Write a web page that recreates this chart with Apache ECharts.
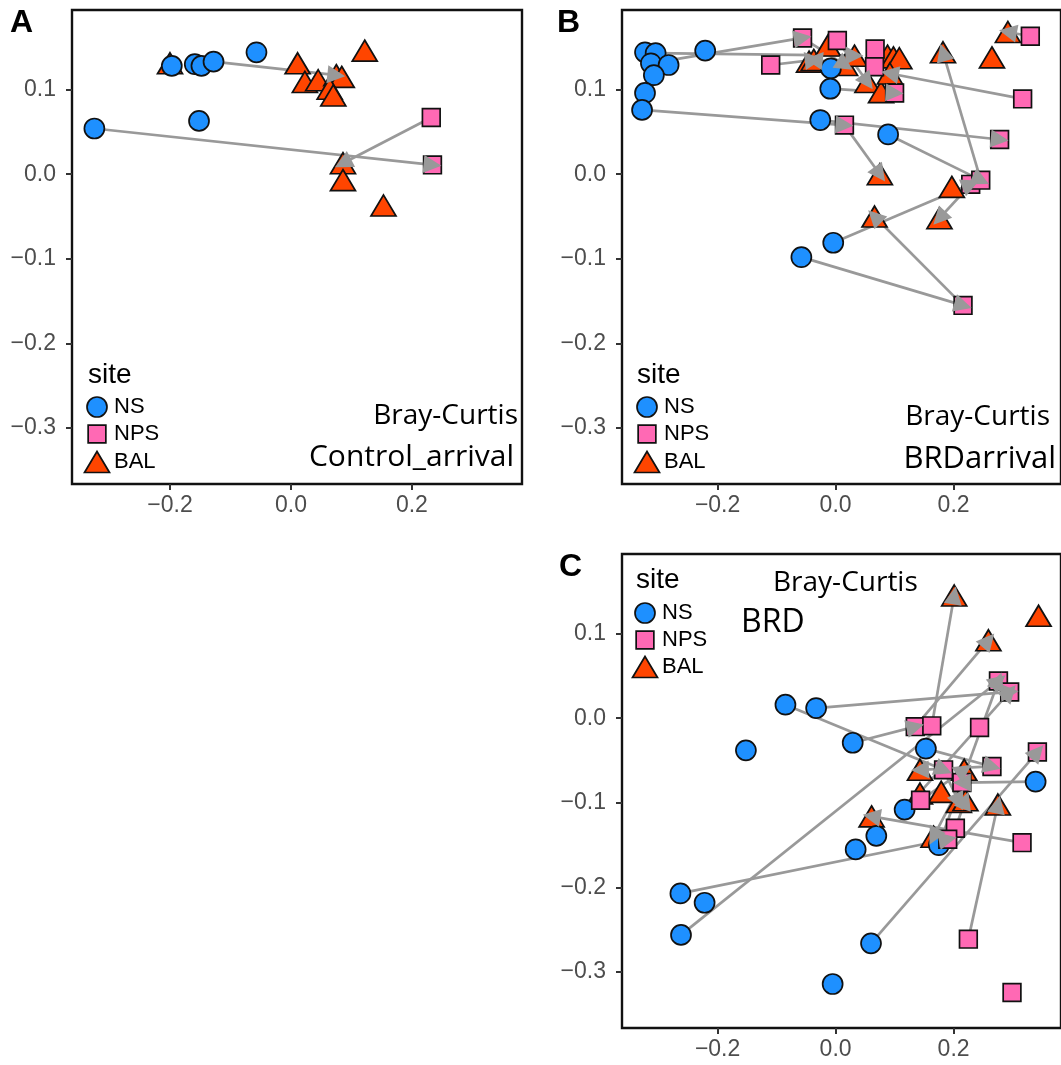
<!DOCTYPE html>
<html>
<head>
<meta charset="utf-8">
<script src="https://cdn.jsdelivr.net/npm/echarts@6/dist/echarts.min.js"></script>
<style>
  html, body { margin: 0; padding: 0; background: #ffffff; }
  #chart { width: 1061px; height: 1065px; }
</style>
</head>
<body>
<div id="chart"></div>
<script>
// Bray-Curtis ordination scores (axis 1, axis 2) by site, for three designs.
const xTicks = [-0.2, 0.0, 0.2];
const yTicks = [-0.3, -0.2, -0.1, 0.0, 0.1];
const siteNames = ['NS', 'NPS', 'BAL'];

// Control_arrival
const controlNS = [[-0.197, 0.128], [-0.159, 0.130], [-0.148, 0.128], [-0.128, 0.133], [-0.057, 0.144], [-0.152, 0.063], [-0.325, 0.054]];
const controlNPS = [[0.232, 0.067], [0.234, 0.011]];
const controlBAL = [[-0.200, 0.131], [0.011, 0.131], [0.122, 0.146], [0.023, 0.109], [0.045, 0.111], [0.075, 0.117], [0.084, 0.115], [0.064, 0.101], [0.070, 0.093], [0.086, 0.013], [0.086, -0.007], [0.153, -0.037]];
// movements between sites: [x from, y from, x to, y to]
const controlMoves = [[-0.128, 0.133, 0.075, 0.117], [-0.325, 0.054, 0.234, 0.011], [0.232, 0.067, 0.086, 0.013]];

// BRDarrival
const arrivalNS = [[-0.323, 0.144], [-0.305, 0.143], [-0.313, 0.131], [-0.283, 0.129], [-0.308, 0.117], [-0.323, 0.096], [-0.328, 0.076], [-0.221, 0.146], [-0.008, 0.125], [-0.009, 0.101], [-0.026, 0.064], [0.089, 0.047], [-0.004, -0.081], [-0.058, -0.098]];
const arrivalNPS = [[-0.056, 0.161], [0.003, 0.158], [-0.110, 0.129], [0.067, 0.148], [0.066, 0.127], [0.100, 0.096], [0.330, 0.163], [0.317, 0.089], [0.015, 0.058], [0.278, 0.041], [0.229, -0.012], [0.246, -0.007], [0.216, -0.155]];
const arrivalBAL = [[-0.045, 0.133], [-0.037, 0.135], [-0.013, 0.152], [0.016, 0.129], [0.032, 0.140], [0.054, 0.109], [0.077, 0.097], [0.088, 0.140], [0.098, 0.138], [0.108, 0.137], [0.092, 0.119], [0.182, 0.144], [0.265, 0.138], [0.292, 0.168], [0.075, 0.000], [0.197, -0.015], [0.066, -0.050], [0.176, -0.052]];
const arrivalMoves = [
  [-0.313, 0.131, -0.056, 0.161], [-0.305, 0.143, 0.032, 0.140], [-0.328, 0.076, 0.015, 0.058],
  [0.015, 0.058, 0.075, 0.000], [-0.026, 0.064, 0.278, 0.041], [0.089, 0.047, 0.246, -0.007],
  [0.246, -0.007, 0.182, 0.144], [0.317, 0.089, 0.092, 0.119], [0.330, 0.163, 0.292, 0.168],
  [0.216, -0.155, 0.066, -0.050], [-0.058, -0.098, 0.216, -0.155], [-0.004, -0.081, 0.229, -0.012],
  [0.229, -0.012, 0.176, -0.052], [-0.110, 0.129, -0.037, 0.135], [-0.009, 0.101, 0.100, 0.096],
  [0.066, 0.127, -0.037, 0.135], [-0.056, 0.161, 0.016, 0.129], [0.003, 0.158, 0.054, 0.109]
];

// BRD
const brdNS = [[-0.085, 0.016], [-0.033, 0.012], [-0.152, -0.038], [0.029, -0.029], [0.153, -0.036], [0.339, -0.075], [0.117, -0.108], [0.069, -0.139], [0.034, -0.155], [0.175, -0.150], [-0.263, -0.207], [-0.222, -0.218], [-0.262, -0.256], [0.060, -0.266], [-0.005, -0.314]];
const brdNPS = [[0.135, -0.010], [0.163, -0.009], [0.276, 0.044], [0.295, 0.031], [0.244, -0.011], [0.342, -0.040], [0.265, -0.057], [0.183, -0.061], [0.214, -0.076], [0.144, -0.097], [0.203, -0.130], [0.190, -0.143], [0.316, -0.147], [0.225, -0.261], [0.299, -0.324]];
const brdBAL = [[0.201, 0.145], [0.344, 0.121], [0.259, 0.092], [0.143, -0.061], [0.218, -0.061], [0.143, -0.089], [0.179, -0.087], [0.209, -0.099], [0.220, -0.097], [0.275, -0.102], [0.061, -0.116], [0.166, -0.140]];
const brdMoves = [
  [-0.033, 0.012, 0.295, 0.031], [-0.085, 0.016, 0.183, -0.061], [0.029, -0.029, 0.135, -0.010],
  [0.163, -0.009, 0.201, 0.145], [0.135, -0.010, 0.259, 0.092], [-0.262, -0.256, 0.276, 0.044],
  [-0.263, -0.207, 0.190, -0.143], [0.060, -0.266, 0.342, -0.040], [0.225, -0.261, 0.275, -0.102],
  [0.316, -0.147, 0.061, -0.116], [0.339, -0.075, 0.214, -0.076], [0.265, -0.057, 0.143, -0.061],
  [0.175, -0.150, 0.276, 0.044], [0.117, -0.108, 0.295, 0.031], [0.144, -0.097, 0.218, -0.061],
  [0.153, -0.036, 0.265, -0.057], [0.183, -0.061, 0.209, -0.099], [0.214, -0.076, 0.166, -0.140],
  [0.203, -0.130, 0.220, -0.097]
];

const panels = [
  { letter: 'A', ns: controlNS, nps: controlNPS, bal: controlBAL, moves: controlMoves },
  { letter: 'B', ns: arrivalNS, nps: arrivalNPS, bal: arrivalBAL, moves: arrivalMoves },
  { letter: 'C', ns: brdNS, nps: brdNPS, bal: brdBAL, moves: brdMoves }
];

// ---- styling ----
const COLORS = { NS: '#1E90FF', NPS: '#FF69B4', BAL: '#FF4500' };
const EDGE = '#111111';
const ARROW = '#999999';
const SANS = '"Liberation Sans", Arial, sans-serif';
const LABEL_FONT = '"Open Sans", sans-serif';

const gridBoxes = [
  { left: 72, top: 10, width: 450, height: 474 },
  { left: 622, top: 10, width: 450, height: 474 },
  { left: 622, top: 554, width: 450, height: 474 }
];

const fmt = v => (v < 0 ? '\u2212' : '') + Math.abs(v).toFixed(1);

function axisCommon(ticks, margin) {
  return {
    type: 'value',
    axisLine: { show: false, onZero: false },
    splitLine: { show: false },
    axisTick: { show: true, inside: false, customValues: ticks, length: 6, lineStyle: { color: '#333333', width: 2 } },
    axisLabel: { show: true, customValues: ticks, formatter: fmt, color: '#4d4d4d', fontSize: 23, fontFamily: SANS, margin: margin }
  };
}

const grid = [], xAxis = [], yAxis = [], series = [];
panels.forEach((p, i) => {
  grid.push(Object.assign({ show: true, borderColor: '#111111', borderWidth: 2.4, backgroundColor: '#ffffff' }, gridBoxes[i]));
  xAxis.push(Object.assign(axisCommon(xTicks, 10), { gridIndex: i, position: 'bottom', min: -0.362, max: 0.382 }));
  yAxis.push(Object.assign(axisCommon(yTicks, 16), { gridIndex: i, position: 'left', min: -0.366, max: 0.194 }));

  const segs = p.moves.map(m => ({ coords: [[m[0], m[1]], [m[2], m[3]]] }));
  // shafts below the points
  series.push({
    type: 'lines', coordinateSystem: 'cartesian2d', xAxisIndex: i, yAxisIndex: i,
    data: segs, symbol: ['none', 'none'], z: 1, silent: true, animation: false,
    lineStyle: { color: ARROW, width: 2.7, opacity: 1, curveness: 0 }
  });
  const pts = [
    { name: 'BAL', data: p.bal, symbol: 'triangle', size: [25, 21] },
    { name: 'NS', data: p.ns, symbol: 'circle', size: 20 },
    { name: 'NPS', data: p.nps, symbol: 'rect', size: 17.7 }
  ];
  pts.forEach(s => series.push({
    type: 'scatter', name: s.name, xAxisIndex: i, yAxisIndex: i, data: s.data,
    symbol: s.symbol, symbolSize: s.size, z: 2, silent: true, animation: false,
    itemStyle: { color: COLORS[s.name], borderColor: EDGE, borderWidth: 1.7, opacity: 1 }
  }));
  // arrow heads above the points
  series.push({
    type: 'lines', coordinateSystem: 'cartesian2d', xAxisIndex: i, yAxisIndex: i,
    data: segs, symbol: ['none', 'triangle'], symbolSize: 18, z: 3, silent: true, animation: false,
    lineStyle: { color: ARROW, width: 0, opacity: 1, curveness: 0 }
  });
});

// ---- annotations: panel letters, legend keys, method/design labels ----
function text(x, y, str, font, size, weight, align, color) {
  return {
    type: 'text', x: x, y: y, silent: true,
    style: {
      text: str, fontFamily: font, fontSize: size, fontWeight: weight || 'normal',
      fill: color || '#000000', align: align || 'left', textAlign: align || 'left',
      verticalAlign: 'middle', textVerticalAlign: 'middle'
    }
  };
}
function key(shape, cx, cy) {
  const style = { fill: COLORS[shape], stroke: EDGE, lineWidth: 1.7 };
  if (shape === 'NS') return { type: 'circle', silent: true, shape: { cx: cx, cy: cy, r: 10 }, style: style };
  if (shape === 'NPS') return { type: 'rect', silent: true, shape: { x: cx - 8.85, y: cy - 8.85, width: 17.7, height: 17.7 }, style: style };
  return { type: 'polygon', silent: true, shape: { points: [[cx, cy - 10.5], [cx + 12.5, cy + 10.5], [cx - 12.5, cy + 10.5]] }, style: style };
}
const legendSpots = [
  { titleX: 88, titleY: 375, keyX: 97, rows: [407, 434, 462], labelX: 114 },
  { titleX: 637, titleY: 375, keyX: 647, rows: [407, 434, 462], labelX: 664 },
  { titleX: 636, titleY: 580, keyX: 645, rows: [613, 640, 667], labelX: 662 }
];
const letterSpots = [[10, 23], [557, 23], [559, 567]];
const graphic = [];
panels.forEach((p, i) => {
  graphic.push(text(letterSpots[i][0], letterSpots[i][1], p.letter, SANS, 32, 'bold'));
  const L = legendSpots[i];
  graphic.push(text(L.titleX, L.titleY, 'site', SANS, 28));
  siteNames.forEach((s, k) => {
    graphic.push(key(s, L.keyX, L.rows[k]));
    graphic.push(text(L.labelX, L.rows[k], s, SANS, 22));
  });
});
graphic.push(text(518, 416, 'Bray-Curtis', LABEL_FONT, 28, 'normal', 'right'));
graphic.push(text(514, 457, 'Control_arrival', LABEL_FONT, 30, 'normal', 'right'));
graphic.push(text(1050, 417, 'Bray-Curtis', LABEL_FONT, 28, 'normal', 'right'));
graphic.push(text(1056, 459, 'BRDarrival', LABEL_FONT, 31, 'normal', 'right'));
graphic.push(text(773, 583, 'Bray-Curtis', LABEL_FONT, 28, 'normal', 'left'));
graphic.push(text(741, 623, 'BRD', LABEL_FONT, 32, 'normal', 'left'));

const chart = echarts.init(document.getElementById('chart'), null, { renderer: 'canvas' });
chart.setOption({
  animation: false,
  backgroundColor: '#ffffff',
  grid: grid,
  xAxis: xAxis,
  yAxis: yAxis,
  series: series,
  graphic: { elements: graphic }
});
</script>
</body>
</html>
